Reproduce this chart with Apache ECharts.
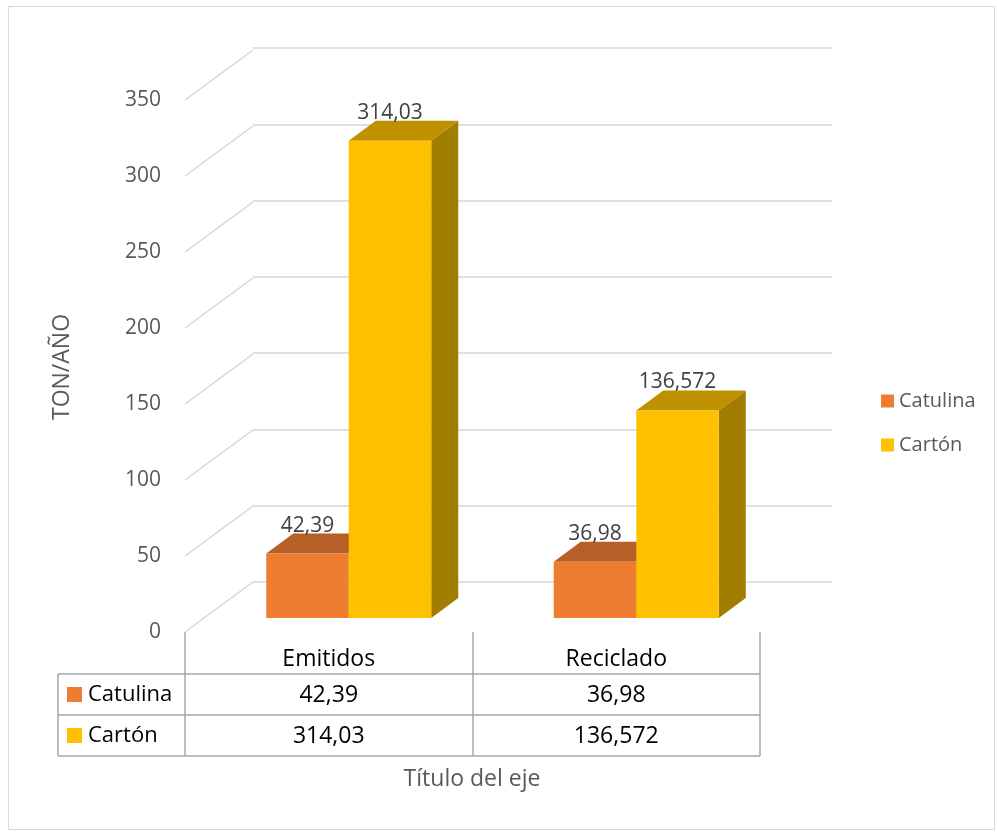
<!DOCTYPE html>
<html>
<head>
<meta charset="utf-8">
<script src="https://cdn.jsdelivr.net/npm/echarts@6/dist/echarts.min.js"></script>
<style>html,body{margin:0;padding:0;background:#fff}#main{width:997px;height:832px}</style>
</head>
<body>
<div id="main"></div>
<script>
// datos
var categorias = ['Emitidos', 'Reciclado'];
var catulina = [42.39, 36.98];
var carton = [314.03, 136.572];
var nombres = ['Catulina', 'Cartón'];
var ticks = [0, 50, 100, 150, 200, 250, 300, 350];

var FONT = '"Open Sans"';
var colCatulina = ['#ED7D31', '#B65F26', '#9E4F1B'];   // frente, tapa, lado
var colCarton = ['#FFC000', '#BF9000', '#A17D00'];

// perspectiva (px)
var PARED = [68, -50];  // pared del fondo respecto al frente
var PLANO = [20, -14];  // plano donde se apoyan las barras
var FONDO = [27, -20];  // profundidad de cada barra

function coma(v) { return String(v).replace('.', ','); }

function barra3d(lado, colores) {
    return function (params, api) {
        var i = api.value(0);
        var base = api.coord([i, 0]);
        var tope = api.coord([i, api.value(1)]);
        var ancho = api.size([1, 0])[0] * 0.287;
        var x0 = base[0] + PLANO[0] + (lado === 0 ? -ancho : 0);
        var x1 = x0 + ancho;
        var yb = base[1] + PLANO[1];
        var yt = tope[1] + PLANO[1];
        var dx = FONDO[0], dy = FONDO[1];
        return {
            type: 'group',
            children: [
                {type: 'polygon', shape: {points: [[x1, yt], [x1 + dx, yt + dy], [x1 + dx, yb + dy], [x1, yb]]}, style: {fill: colores[2]}},
                {type: 'polygon', shape: {points: [[x0, yt], [x1, yt], [x1 + dx, yt + dy], [x0 + dx, yt + dy]]}, style: {fill: colores[1]}},
                {type: 'rect', shape: {x: x0, y: yt, width: ancho, height: yb - yt}, style: {fill: colores[0]}},
                {type: 'text', x: (x0 + x1) / 2, y: yt + dy - 8, z2: 10,
                    style: {text: coma(api.value(1)), fill: '#404040', font: '21px ' + FONT, align: 'center', verticalAlign: 'middle'}}
            ]
        };
    };
}

// lineas diagonales de la pared lateral
function diagonal(params, api) {
    var p = api.coord([0, api.value(1)]);
    var x = params.coordSys.x;
    return {
        type: 'line',
        shape: {x1: x, y1: p[1], x2: x + PARED[0], y2: p[1] + PARED[1]},
        style: {stroke: '#d6d6d6', lineWidth: 1.5}
    };
}

var chart = echarts.init(document.getElementById('main'));

var tablaX0 = 58, tablaX1 = 760;
var filas = [674, 715, 756];

var graficos = [
    {type: 'rect', shape: {x: 8.5, y: 6.5, width: 986, height: 823}, style: {fill: null, stroke: '#d9d9d9', lineWidth: 1}},
    {type: 'text', x: 62, y: 367, rotation: Math.PI / 2,
        style: {text: 'TON/AÑO', fill: '#595959', font: '23px ' + FONT, align: 'center', verticalAlign: 'middle'}},
    {type: 'text', x: 472, y: 779,
        style: {text: 'Título del eje', fill: '#595959', font: '23px ' + FONT, align: 'center', verticalAlign: 'middle'}},
    {type: 'line', shape: {x1: tablaX0, y1: filas[0], x2: tablaX0, y2: filas[2]}, style: {stroke: '#a6a6a6', lineWidth: 1.5}}
];
filas.forEach(function (y) {
    graficos.push({type: 'line', shape: {x1: tablaX0, y1: y, x2: tablaX1, y2: y}, style: {stroke: '#a6a6a6', lineWidth: 1.5}});
});
nombres.forEach(function (n, k) {
    var yc = (filas[k] + filas[k + 1]) / 2;
    graficos.push({type: 'rect', shape: {x: 67, y: yc - 7.5, width: 15, height: 15}, style: {fill: [colCatulina, colCarton][k][0]}});
    graficos.push({type: 'text', x: 88, y: yc, style: {text: n, fill: '#000', font: '22px ' + FONT, verticalAlign: 'middle'}});
});

chart.setOption({
    animation: false,
    backgroundColor: '#fff',
    legend: {
        data: nombres,
        orient: 'vertical',
        left: 876,
        top: 386,
        icon: 'rect',
        itemWidth: 13,
        itemHeight: 13,
        itemGap: 24,
        textStyle: {fontSize: 20, color: '#595959', fontFamily: FONT}
    },
    grid: [
        {left: 185, right: 237, top: 100, bottom: 200},
        {left: 253, right: 165, top: 48, bottom: 250}
    ],
    xAxis: [
        {
            type: 'category', gridIndex: 0, data: categorias,
            axisLine: {show: false},
            axisTick: {show: true, length: 124, lineStyle: {color: '#a6a6a6', width: 1.5}},
            axisLabel: {margin: 27, verticalAlign: 'middle', fontSize: 23, color: '#000', fontFamily: FONT}
        },
        {
            type: 'category', gridIndex: 0, data: categorias, position: 'bottom', offset: 42,
            axisLine: {show: false}, axisTick: {show: false},
            axisLabel: {margin: 21, verticalAlign: 'middle', fontSize: 23, color: '#000', fontFamily: FONT,
                formatter: function (v, i) { return coma(catulina[i]); }}
        },
        {
            type: 'category', gridIndex: 0, data: categorias, position: 'bottom', offset: 83,
            axisLine: {show: false}, axisTick: {show: false},
            axisLabel: {margin: 21, verticalAlign: 'middle', fontSize: 23, color: '#000', fontFamily: FONT,
                formatter: function (v, i) { return coma(carton[i]); }}
        },
        {type: 'category', gridIndex: 1, data: categorias, show: false}
    ],
    yAxis: [
        {
            type: 'value', gridIndex: 0, min: 0, max: 350, interval: 50,
            axisLine: {show: false}, axisTick: {show: false}, splitLine: {show: false},
            axisLabel: {margin: 24, fontSize: 21, color: '#595959', fontFamily: FONT}
        },
        {
            type: 'value', gridIndex: 1, min: 0, max: 350, interval: 50,
            axisLine: {show: false}, axisTick: {show: false}, axisLabel: {show: false},
            splitLine: {lineStyle: {color: '#d6d6d6', width: 1.5}}
        }
    ],
    series: [
        {
            type: 'custom', xAxisIndex: 0, yAxisIndex: 0, silent: true,
            data: ticks.map(function (t) { return [0, t]; }),
            encode: {x: 0, y: 1},
            renderItem: diagonal
        },
        {
            name: nombres[0], type: 'custom', xAxisIndex: 0, yAxisIndex: 0,
            itemStyle: {color: colCatulina[0]},
            data: catulina.map(function (v, i) { return [i, v]; }),
            encode: {x: 0, y: 1},
            renderItem: barra3d(0, colCatulina)
        },
        {
            name: nombres[1], type: 'custom', xAxisIndex: 0, yAxisIndex: 0,
            itemStyle: {color: colCarton[0]},
            data: carton.map(function (v, i) { return [i, v]; }),
            encode: {x: 0, y: 1},
            renderItem: barra3d(1, colCarton)
        }
    ],
    graphic: graficos
});
</script>
</body>
</html>
